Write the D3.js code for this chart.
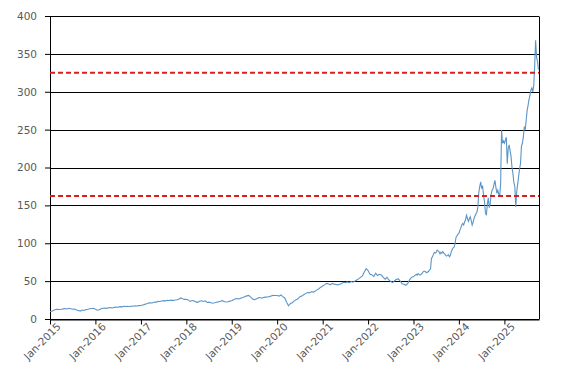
<!DOCTYPE html>
<html>
<head>
<meta charset="utf-8">
<script src="https://cdn.jsdelivr.net/npm/d3@7"></script>
<style>
  body { margin: 0; background: #fff; }
  svg { display: block; }
</style>
</head>
<body>
<div id="chart"></div>
<script>
'use strict'

// semi-monthly closes, 24 per year
var prices2015 = [9.8, 10.3, 11.5, 12.5, 12.8, 12.6, 12.9, 13.4, 13.8, 13.3, 14.2, 13.6, 12.9, 13.2, 11.9, 11.2, 10.5, 11.8, 11.3, 12.4, 12.8, 13.6, 13.9, 14.1]
var prices2016 = [12.8, 11.6, 12.2, 13.5, 14.1, 14.6, 14.0, 14.8, 15.2, 14.6, 15.3, 15.8, 15.5, 16.3, 16.0, 16.8, 16.5, 16.9, 16.2, 17.1, 16.8, 17.4, 17.2, 17.6]
var prices2017 = [18.0, 18.5, 19.3, 20.1, 21.0, 21.5, 21.2, 22.4, 22.0, 23.4, 23.2, 23.8, 24.3, 24.0, 24.8, 24.5, 24.9, 24.3, 25.0, 25.4, 26.2, 27.8, 26.6, 25.9]
var prices2018 = [26.0, 25.2, 23.2, 24.3, 24.0, 22.6, 22.0, 23.5, 24.1, 23.2, 24.0, 21.8, 22.2, 21.5, 20.9, 21.4, 22.1, 22.6, 23.3, 24.2, 23.0, 22.4, 22.8, 23.6]
var prices2019 = [24.0, 25.5, 26.8, 27.0, 26.5, 27.8, 28.5, 29.7, 30.5, 31.2, 29.0, 26.5, 25.6, 26.3, 28.0, 28.4, 27.5, 28.6, 28.9, 29.0, 29.8, 30.5, 31.3, 31.0]
var prices2020 = [31.0, 30.2, 31.8, 29.5, 27.8, 22.0, 17.5, 20.5, 21.5, 24.0, 25.5, 26.8, 29.5, 30.5, 32.0, 33.5, 35.0, 34.5, 36.0, 35.5, 36.5, 38.5, 40.0, 42.0]
var prices2021 = [43.5, 45.0, 47.0, 46.5, 45.0, 47.0, 46.0, 45.5, 45.0, 46.0, 47.0, 48.5, 48.0, 49.0, 48.0, 49.5, 48.5, 50.0, 51.5, 53.0, 55.0, 57.0, 62.0, 66.5]
var prices2022 = [64.0, 59.0, 58.5, 56.0, 60.5, 57.5, 59.0, 58.0, 55.0, 52.5, 55.0, 51.5, 49.5, 48.0, 50.5, 52.5, 53.0, 50.0, 46.5, 46.0, 44.5, 47.0, 52.0, 55.0]
// weekly closes, 48 per year
var prices2023 = [56, 57, 58, 59, 58, 60, 59, 58, 59, 60, 62, 63, 63, 62, 61, 62, 63, 65, 66, 80, 82, 85, 88, 87, 88, 91, 90, 89, 86, 88, 87, 89, 87, 86, 84, 83, 84, 85, 82, 84, 89, 92, 94, 95, 100, 108, 110, 112]
var prices2024 = [113, 117, 120, 124, 126, 124, 128, 131, 137, 133, 129, 132, 135, 130, 124, 128, 133, 136, 139, 141, 148, 167, 175, 181, 172, 176, 163, 155, 140, 137, 152, 160, 147, 152, 165, 170, 172, 178, 183, 174, 166, 170, 165, 162, 178, 249, 232, 235]
var prices2025 = [232, 236, 240, 205, 225, 230, 222, 215, 200, 192, 180, 175, 148, 168, 178, 188, 198, 205, 228, 232, 240, 254, 250, 262, 275, 282, 290, 295, 302, 305, 300, 308, 335, 368, 345, 340, 329]

var years = [2015, 2016, 2017, 2018, 2019, 2020, 2021, 2022, 2023, 2024, 2025]
var yearPrices = [prices2015, prices2016, prices2017, prices2018, prices2019, prices2020, prices2021, prices2022, prices2023, prices2024, prices2025]
var yTicks = [0, 50, 100, 150, 200, 250, 300, 350, 400]
var refLevels = [325, 162.5]
var xStart = new Date(2015, 0, 1)
var xEnd = new Date(2025, 9, 6)

var data = []
years.forEach(function(yr, k) {
  var p = yearPrices[k]
  var n = p.length > 24 ? 48 : 24
  var t0 = new Date(yr, 0, 1).getTime()
  var t1 = new Date(yr + 1, 0, 1).getTime()
  p.forEach(function(v, i) {
    data.push({ date: new Date(t0 + (t1 - t0) * i / n), value: v })
  })
})

var W = 567
var H = 383
var margin = { top: 16, right: 28, bottom: 64, left: 50 }
var width = W - margin.left - margin.right
var height = H - margin.top - margin.bottom

var svg = d3
  .select('#chart')
  .append('svg')
  .attr('width', W)
  .attr('height', H)

var g = svg
  .append('g')
  .attr('transform', 'translate(' + margin.left + ',' + margin.top + ')')

var x = d3.scaleTime().domain([xStart, xEnd]).range([0, width])
var y = d3.scaleLinear().domain([0, 400]).range([height, 0])

// gridlines
g.selectAll('.grid')
  .data(yTicks)
  .enter()
  .append('line')
  .attr('x1', 0)
  .attr('x2', width)
  .attr('y1', function(d) { return Math.round(y(d)) + 0.5 })
  .attr('y2', function(d) { return Math.round(y(d)) + 0.5 })
  .attr('stroke', '#000')
  .attr('stroke-width', 1)

// right border
g.append('line')
  .attr('x1', width + 0.5)
  .attr('x2', width + 0.5)
  .attr('y1', Math.round(y(400)) + 0.5)
  .attr('y2', Math.round(y(0)) + 0.5)
  .attr('stroke', '#000')

var yAxis = d3.axisLeft(y).tickValues(yTicks).tickSize(5).tickPadding(8)
var gy = g.append('g').call(yAxis)
gy.select('.domain').attr('stroke', '#000')
gy.selectAll('line').attr('stroke', '#000')
gy.selectAll('text')
  .attr('font-family', 'DejaVu Sans, sans-serif')
  .attr('font-size', '10.5px')
  .attr('fill', '#595959')

var xTicks = years.map(function(yr) { return new Date(yr, 0, 1) })
var xAxis = d3
  .axisBottom(x)
  .tickValues(xTicks)
  .tickSize(5)
  .tickSizeOuter(0)
  .tickFormat(d3.timeFormat('Jan-%Y'))
var gx = g
  .append('g')
  .attr('transform', 'translate(0,' + (Math.round(height) + 0.5) + ')')
  .call(xAxis)
gx.select('.domain').attr('stroke', '#000')
gx.selectAll('line').attr('stroke', '#000')
gx.selectAll('text')
  .attr('font-family', 'DejaVu Sans, sans-serif')
  .attr('font-size', '10.5px')
  .attr('fill', '#595959')
  .attr('text-anchor', 'end')
  .attr('dx', '0.2em')
  .attr('dy', '0.5em')
  .attr('transform', 'rotate(-45)')

// price line
var line = d3
  .line()
  .x(function(d) { return x(d.date) })
  .y(function(d) { return y(d.value) })

g.append('path')
  .datum(data)
  .attr('fill', 'none')
  .attr('stroke', '#5b95c9')
  .attr('stroke-width', 1.1)
  .attr('d', line)

// reference levels
g.selectAll('.ref')
  .data(refLevels)
  .enter()
  .append('line')
  .attr('x1', 0)
  .attr('x2', width)
  .attr('y1', function(d) { return y(d) })
  .attr('y2', function(d) { return y(d) })
  .attr('stroke', '#d42020')
  .attr('stroke-width', 2)
  .attr('stroke-dasharray', '5,3')
</script>
</body>
</html>
